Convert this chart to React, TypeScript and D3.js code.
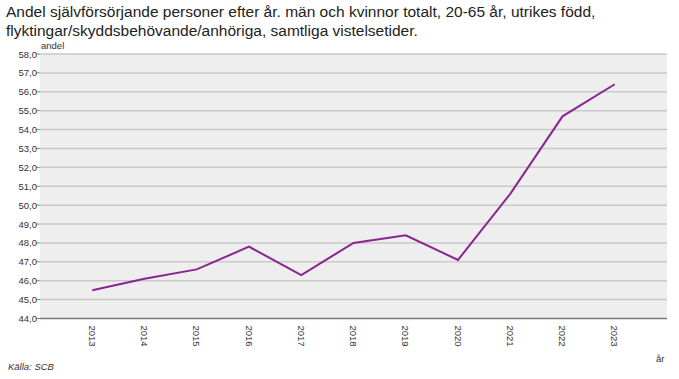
import React from "react";
import * as d3 from "d3";

const years = ["2013", "2014", "2015", "2016", "2017", "2018", "2019", "2020", "2021", "2022", "2023"];
const values = [45.5, 46.1, 46.6, 47.8, 46.3, 48.0, 48.4, 47.1, 50.6, 54.7, 56.4];
const yTicks = [44, 45, 46, 47, 48, 49, 50, 51, 52, 53, 54, 55, 56, 57, 58];
const titleLines = [
  "Andel självförsörjande personer efter år. män och kvinnor totalt, 20-65 år, utrikes född,",
  "flyktingar/skyddsbehövande/anhöriga, samtliga vistelsetider.",
];

export default function App() {
  const W = 679, H = 379;
  const left = 40, right = 667, top = 54, bottom = 318.5;
  const x = d3.scalePoint<string>().domain(years).range([left, right]).padding(1);
  const y = d3.scaleLinear().domain([44, 58]).range([bottom, top]);
  const line = d3.line<number>().x((_, i) => x(years[i])!).y((d) => y(d));
  const fmt = (v: number) => v.toFixed(1).replace(".", ",");
  const font = "'Liberation Sans', Arial, sans-serif";

  return (
    <svg width={W} height={H} style={{ position: "absolute", left: 0, top: 0, background: "#fff" }} fontFamily={font}>
      {titleLines.map((t, i) => (
        <text key={i} x={6} y={17 + i * 19} fontSize={15.5} fill="#222">{t}</text>
      ))}
      <rect x={left} y={top} width={right - left} height={bottom - top} fill="#eeeeee" />
      {yTicks.map((t) => (
        <g key={t}>
          <line x1={left} x2={right} y1={y(t)} y2={y(t)} stroke={t === 44 ? "#777" : "#c9c9c9"} strokeWidth={t === 44 ? 1.5 : 1.5} />
          <line x1={left - 4} x2={left} y1={y(t)} y2={y(t)} stroke="#888" strokeWidth={1} />
          <text x={left - 3} y={y(t) + 3.5} fontSize={9.5} fill="#333" textAnchor="end">{fmt(t)}</text>
        </g>
      ))}
      <text x={left + 1} y={top - 5} fontSize={9.5} fill="#333">andel</text>
      <path d={line(values) ?? ""} fill="none" stroke="#8a2590" strokeWidth={2} />
      {years.map((yr) => (
        <text key={yr} transform={`translate(${x(yr)! - 3.5},${bottom + 7}) rotate(90)`} fontSize={9.5} fill="#333">{yr}</text>
      ))}
      <text x={656} y={362} fontSize={9.5} fill="#333">år</text>
      <text x={8} y={370} fontSize={9.5} fill="#333" fontStyle="italic">Källa: SCB</text>
    </svg>
  );
}
